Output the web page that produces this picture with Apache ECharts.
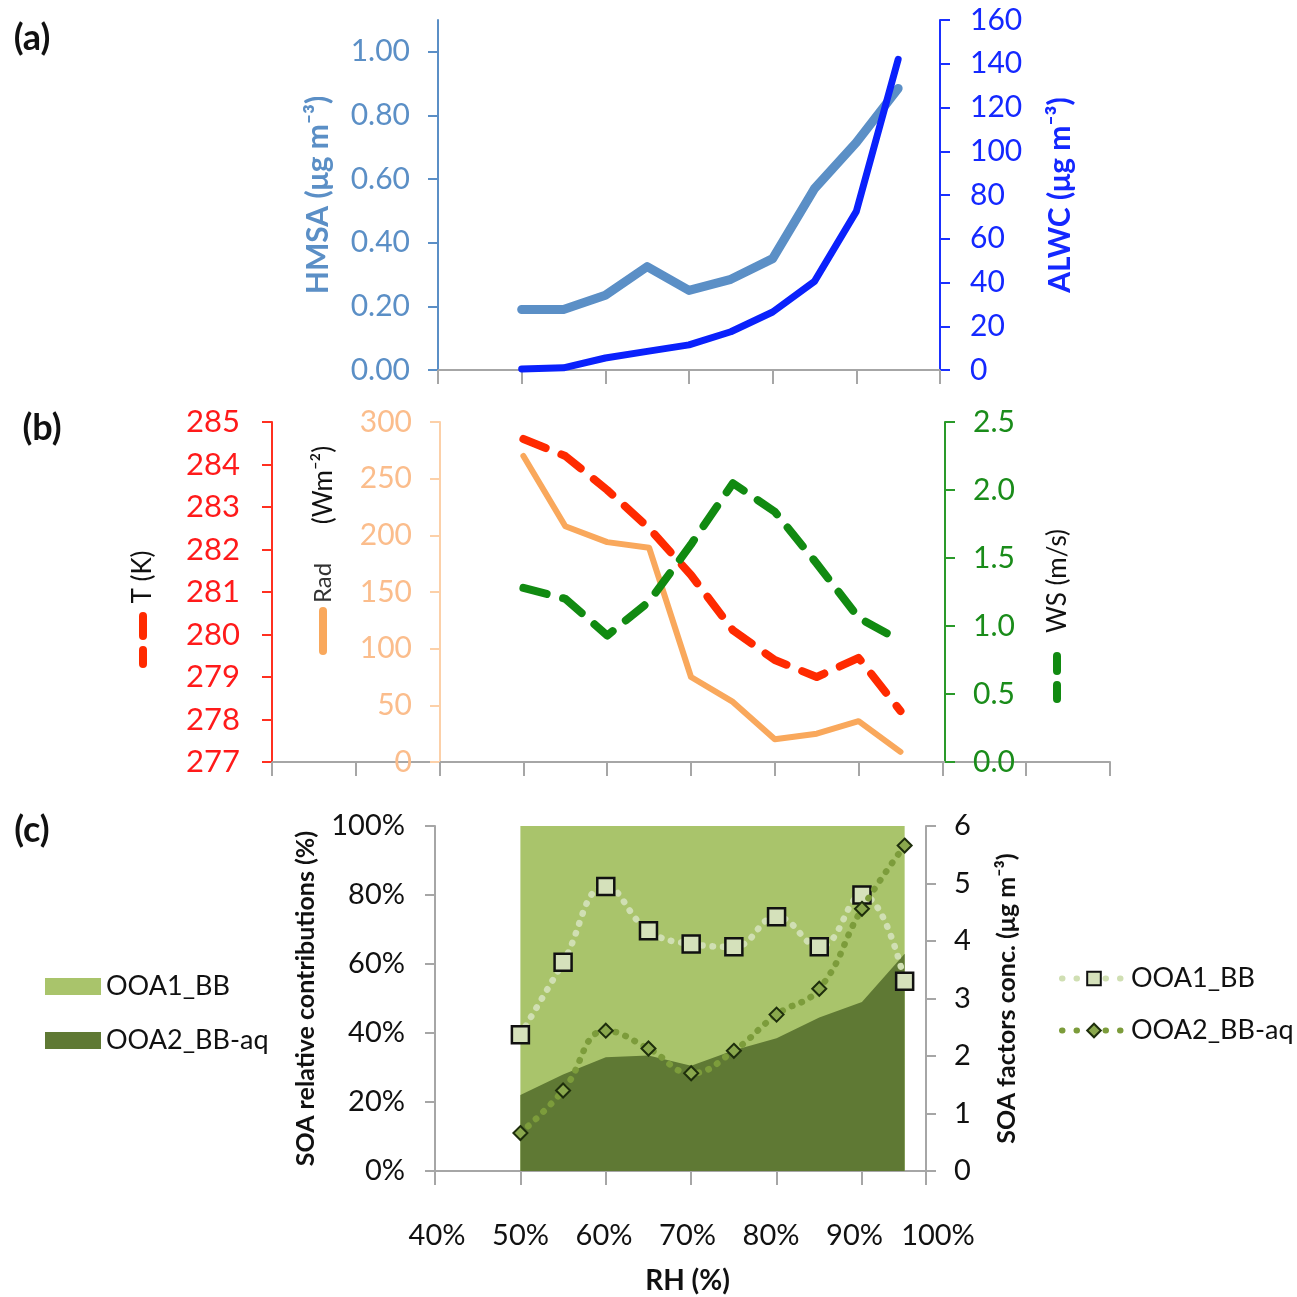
<!DOCTYPE html>
<html>
<head>
<meta charset="utf-8">
<style>
html,body{margin:0;padding:0;background:#fff;}
#chart{width:1297px;height:1297px;}
</style>
<script src="https://cdn.jsdelivr.net/npm/echarts@6.0.0/dist/echarts.min.js"></script>
</head>
<body>
<div id="chart"></div>
<script>
// ---------- data ----------
const rh = [50, 55, 60, 65, 70, 75, 80, 85, 90, 95];
const hmsa = [0.19, 0.19, 0.235, 0.325, 0.25, 0.285, 0.35, 0.57, 0.715, 0.885];
const alwc = [0.5, 1, 5.5, 8.5, 11.5, 17.5, 26.5, 40.5, 72.5, 142];
const tempK = [284.6, 284.2, 283.4, 282.5, 281.4, 280.1, 279.4, 279.0, 279.45, 278.2];
const rad = [270, 208, 194, 189, 75, 53, 20, 25, 36, 9];
const ws = [1.28, 1.2, 0.93, 1.18, 1.6, 2.05, 1.84, 1.46, 1.06, 0.89];
const ooa2Share = [22, 28, 33, 33.5, 30.5, 35, 38.5, 44.5, 49, 63];
const ooa1Share = [78, 72, 67, 66.5, 69.5, 65, 61.5, 55.5, 51, 37];
const ooa1Conc = [2.37, 3.63, 4.95, 4.18, 3.95, 3.9, 4.42, 3.9, 4.8, 3.3];
const ooa2Conc = [0.66, 1.4, 2.44, 2.13, 1.7, 2.09, 2.72, 3.17, 4.56, 5.66];
const rhTickLabels = ['40%', '50%', '60%', '70%', '80%', '90%', '100%'];

const FONT = 'Lato, "Open Sans", sans-serif';
const pairs = arr => rh.map((r, i) => [r, arr[i]]);
// cumulative share (OOA2 at bottom, OOA1 stacked above it)
const cumShare = rh.map((r, i) => [r, ooa2Share[i] + ooa1Share[i]]);

const GRAY = '#a6a6a6';
const DOTS = [0.5, 10];
function xAx(idx, min, max, extra) {
  return Object.assign({
    type: 'value', gridIndex: idx, min: min, max: max, interval: 10,
    axisLine: {show: true, onZero: false, lineStyle: {color: GRAY, width: 2}},
    axisTick: {show: true, length: 14, lineStyle: {color: GRAY, width: 2}},
    axisLabel: {show: false}, splitLine: {show: false}
  }, extra || {});
}
function yAx(idx, pos, min, max, interval, color, labelColor, extra) {
  return Object.assign({
    type: 'value', gridIndex: idx, position: pos, min: min, max: max, interval: interval,
    axisLine: {show: true, onZero: false, lineStyle: {color: color, width: 2}},
    axisTick: {show: true, length: 10, lineStyle: {color: color, width: 2}},
    axisLabel: {show: true, color: labelColor, fontFamily: FONT, fontSize: 30, margin: 28, showMaxLabel: false},
    splitLine: {show: false}
  }, extra || {});
}
function gText(x, y, text, size, weight, color, rot) {
  return {type: 'text', x: x, y: y, rotation: rot || 0,
    style: {text: text, fontSize: size, fontWeight: weight, fontFamily: FONT, fill: color, align: 'center', verticalAlign: 'middle'}};
}

const option = {
  animation: false,
  backgroundColor: '#ffffff',
  grid: [
    {left: 438, top: 20, width: 502, height: 350, containLabel: false},
    {left: 272, top: 422, width: 838, height: 340, containLabel: false},
    {left: 435, top: 826, width: 491, height: 345, containLabel: false},
    {left: 437, top: 1170, width: 501, height: 1, containLabel: false}
  ],
  xAxis: [
    xAx(0, 40, 100),
    xAx(1, 20, 120),
    xAx(2, 40, 97.5),
    {
      type: 'value', gridIndex: 3, min: 40, max: 100, interval: 10,
      axisLine: {show: false}, axisTick: {show: false}, splitLine: {show: false},
      axisLabel: {show: true, margin: 50, color: '#111', fontFamily: FONT, fontSize: 29,
        formatter: v => rhTickLabels[Math.round((v - 40) / 10)] || ''},
      name: 'RH (%)', nameLocation: 'middle', nameGap: 96,
      nameTextStyle: {fontFamily: FONT, fontSize: 28, fontWeight: 'bold', color: '#111'}
    }
  ],
  yAxis: [
    yAx(0, 'left', 0, 1.1, 0.2, '#5b8fc6', '#5b8fc6', {
      axisLabel: {show: true, color: '#5b8fc6', fontFamily: FONT, fontSize: 30, margin: 28, showMaxLabel: false,
        formatter: v => v.toFixed(2)},
      name: 'HMSA (μg m⁻³)', nameLocation: 'middle', nameGap: 105, nameRotate: 90,
      nameTextStyle: {color: '#5b8fc6', fontFamily: FONT, fontSize: 30, fontWeight: 'bold'}
    }),
    yAx(0, 'right', 0, 160, 20, '#1a30ff', '#1428ff', {
      axisLabel: {show: true, color: '#1428ff', fontFamily: FONT, fontSize: 30, margin: 30, showMaxLabel: true},
      name: 'ALWC (μg m⁻³)', nameLocation: 'middle', nameGap: 105, nameRotate: 90,
      nameTextStyle: {color: '#1428ff', fontFamily: FONT, fontSize: 30, fontWeight: 'bold'}
    }),
    yAx(1, 'left', 277, 285, 1, '#ff3020', '#ff1a1a', {
      axisLabel: {show: true, color: '#ff1a1a', fontFamily: FONT, fontSize: 31, margin: 32, showMaxLabel: true}
    }),
    yAx(1, 'left', 0, 300, 50, '#fcd0a8', '#fbbd8c', {
      offset: -168,
      axisLabel: {show: true, color: '#fbbd8c', fontFamily: FONT, fontSize: 30, margin: 28, showMaxLabel: true}
    }),
    yAx(1, 'right', 0, 2.5, 0.5, '#2a9a2a', '#1a8c1a', {
      offset: -165,
      axisLabel: {show: true, color: '#1a8c1a', fontFamily: FONT, fontSize: 30, margin: 28, showMaxLabel: true,
        formatter: v => v.toFixed(1)}
    }),
    yAx(2, 'left', 0, 100, 20, GRAY, '#111', {
      axisLabel: {show: true, color: '#111', fontFamily: FONT, fontSize: 29, margin: 30, showMaxLabel: true,
        formatter: '{value}%'},
      name: 'SOA relative contributions (%)', nameLocation: 'middle', nameGap: 117, nameRotate: 90,
      nameTextStyle: {color: '#111', fontFamily: FONT, fontSize: 25, fontWeight: 'bold'}
    }),
    yAx(2, 'right', 0, 6, 1, GRAY, '#111', {
      axisLabel: {show: true, color: '#111', fontFamily: FONT, fontSize: 29, margin: 28, showMaxLabel: true},
      name: 'SOA factors conc. (μg m⁻³)', nameLocation: 'middle', nameGap: 68, nameRotate: 90,
      nameTextStyle: {color: '#111', fontFamily: FONT, fontSize: 25, fontWeight: 'bold'}
    }),
    {type: 'value', gridIndex: 3, show: false, min: 0, max: 1}
  ],
  legend: [
    {
      orient: 'vertical', left: 40, top: 968, itemWidth: 56, itemHeight: 17, itemGap: 27,
      icon: 'rect', selectedMode: false, data: ['OOA1_BB', 'OOA2_BB-aq'],
      textStyle: {fontFamily: FONT, fontSize: 27, color: '#111'}
    },
    {
      orient: 'vertical', left: 1054, top: 960, itemWidth: 64, itemHeight: 17, itemGap: 25,
      selectedMode: false, data: ['OOA1_BB conc', 'OOA2_BB-aq conc'],
      formatter: n => n.replace(' conc', ''),
      lineStyle: {width: 6, type: [0.5, 14], cap: 'round'},
      textStyle: {fontFamily: FONT, fontSize: 27, color: '#111'}
    }
  ],
  series: [
    // panel a
    {name: 'HMSA', type: 'line', xAxisIndex: 0, yAxisIndex: 0, data: pairs(hmsa), showSymbol: false, symbol: 'none',
      lineStyle: {color: '#5b8fc6', width: 9, cap: 'round', join: 'round'}, itemStyle: {color: '#5b8fc6'}, z: 3},
    {name: 'ALWC', type: 'line', xAxisIndex: 0, yAxisIndex: 1, data: pairs(alwc), showSymbol: false, symbol: 'none',
      lineStyle: {color: '#0a21fc', width: 7, cap: 'round', join: 'round'}, itemStyle: {color: '#0a21fc'}, z: 4},
    // panel b
    {name: 'Rad', type: 'line', xAxisIndex: 1, yAxisIndex: 3, data: pairs(rad), symbol: 'none',
      lineStyle: {color: '#f9a85c', width: 6, cap: 'round', join: 'round'}, itemStyle: {color: '#f9a85c'}, z: 3},
    {name: 'T', type: 'line', xAxisIndex: 1, yAxisIndex: 2, data: pairs(tempK), symbol: 'none',
      lineStyle: {color: '#ff2a00', width: 8, type: [24, 17], cap: 'round', join: 'round'}, itemStyle: {color: '#ff2a00'}, z: 4},
    {name: 'WS', type: 'line', xAxisIndex: 1, yAxisIndex: 4, data: pairs(ws), symbol: 'none',
      lineStyle: {color: '#118a11', width: 8, type: [24, 17], cap: 'round', join: 'round'}, itemStyle: {color: '#118a11'}, z: 4},
    // panel c areas (light = cumulative total drawn first, dark OOA2 share on top)
    {name: 'OOA1_BB', type: 'line', xAxisIndex: 2, yAxisIndex: 5, data: cumShare, symbol: 'none',
      lineStyle: {width: 0, color: '#a9c46b'}, areaStyle: {color: '#a9c46b', opacity: 1}, itemStyle: {color: '#a9c46b'}, z: 1},
    {name: 'OOA2_BB-aq', type: 'line', xAxisIndex: 2, yAxisIndex: 5, data: pairs(ooa2Share), symbol: 'none',
      lineStyle: {width: 0, color: '#5f7934'}, areaStyle: {color: '#5f7934', opacity: 1}, itemStyle: {color: '#5f7934'}, z: 2},
    // panel c concentrations
    {name: 'OOA1_BB conc', type: 'line', xAxisIndex: 2, yAxisIndex: 6, data: pairs(ooa1Conc), smooth: 0.45,
      symbol: 'rect', symbolSize: 17, showSymbol: true,
      lineStyle: {color: '#d0dfb3', width: 6.5, type: DOTS, cap: 'round'},
      itemStyle: {color: '#d5e1bb', borderColor: '#111', borderWidth: 2.5}, z: 5},
    {name: 'OOA2_BB-aq conc', type: 'line', xAxisIndex: 2, yAxisIndex: 6, data: pairs(ooa2Conc), smooth: 0.45,
      symbol: 'diamond', symbolSize: 14, showSymbol: true,
      lineStyle: {color: '#7c9c3b', width: 6.5, type: DOTS, cap: 'round'},
      itemStyle: {color: '#8aa84d', borderColor: '#1e2e0c', borderWidth: 2}, z: 6}
  ],
  graphic: [
    gText(32, 38, '(a)', 36, 'bold', '#111'),
    gText(42, 428, '(b)', 36, 'bold', '#111'),
    gText(32, 830, '(c)', 36, 'bold', '#111'),
    gText(143, 577, 'T (K)', 26, 'normal', '#111', Math.PI / 2),
    {type: 'line', shape: {x1: 143, y1: 616, x2: 143, y2: 664}, style: {stroke: '#ff2a00', lineWidth: 8, lineCap: 'round', lineDash: [20, 14]}},
    gText(323, 583, 'Rad', 24, 'normal', '#333', Math.PI / 2),
    {type: 'line', shape: {x1: 323, y1: 611, x2: 323, y2: 651}, style: {stroke: '#f9a85c', lineWidth: 8, lineCap: 'round'}},
    gText(324, 485, '(Wm⁻²)', 26, 'normal', '#111', Math.PI / 2),
    gText(1058, 581, 'WS (m/s)', 26, 'normal', '#111', Math.PI / 2),
    {type: 'line', shape: {x1: 1057, y1: 656, x2: 1057, y2: 699}, style: {stroke: '#118a11', lineWidth: 8, lineCap: 'round', lineDash: [15, 14]}}
  ]
};

const chart = echarts.init(document.getElementById('chart'), null, {renderer: 'canvas'});
chart.setOption(option);
</script>
</body>
</html>
